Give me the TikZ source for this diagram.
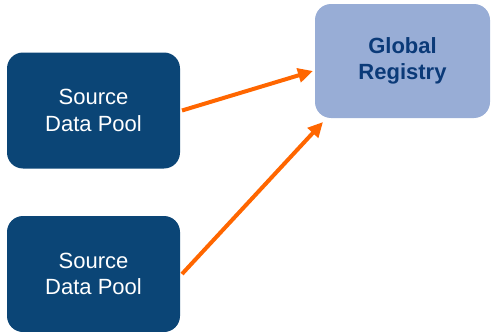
\documentclass[tikz,border=0pt]{standalone}
\usepackage{fontspec}
\setmainfont{Liberation Sans}
\usetikzlibrary{%
  arrows.meta,%
  positioning,%
  calc%
}
\definecolor{pooldark}{RGB}{11,69,118}
\definecolor{reglight}{RGB}{152,173,214}
\definecolor{regtext}{RGB}{11,58,120}
\definecolor{flow}{RGB}{255,102,0}

\begin{document}
\begin{tikzpicture}[
  x=1pt, y=-1pt, font=\fontsize{22}{26.5}\selectfont,
  >={Triangle[length=15pt,width=14pt]}, line width=4pt,
  pool/.style={rectangle, rounded corners=16pt, fill=pooldark, text=white,
    minimum width=173pt, minimum height=116pt, inner sep=0pt, align=center},
  registry/.style={rectangle, rounded corners=16pt, fill=reglight, text=regtext,
    font=\fontsize{22}{26.5}\selectfont\bfseries,
    minimum width=175pt, minimum height=114pt, inner sep=0pt, align=center}
]
\useasboundingbox (0,0) rectangle (493,332);

\node[pool] (pool1) at (93.5,110.5) {Source\\Data Pool};
\node[pool] (pool2) at (93.5,274) {Source\\Data Pool};
\node[registry] (reg) at (402.5,61) {Global\\Registry};

\draw[->, flow] (pool1.east) -- ([yshift=-10pt]reg.west);
\draw[->, flow] (pool2.east) -- ([xshift=10pt,yshift=-2pt]reg.south west);
\end{tikzpicture}
\end{document}
